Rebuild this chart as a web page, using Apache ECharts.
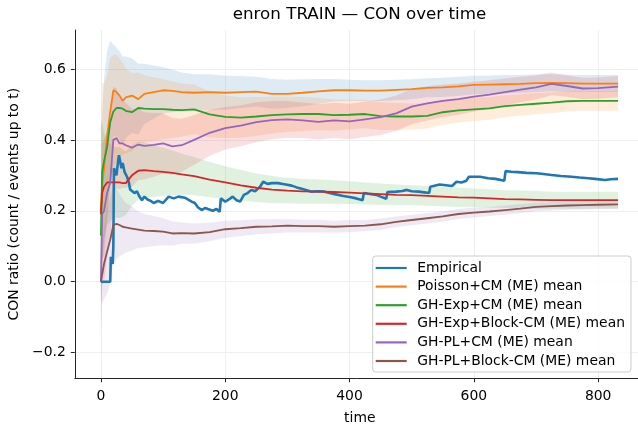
<!DOCTYPE html>
<html><head><meta charset="utf-8">
<script src="https://cdn.jsdelivr.net/npm/echarts@6/dist/echarts.min.js"></script>
<style>html,body{margin:0;padding:0;background:#fff}#c{width:638px;height:428px}</style>
</head><body><div id="c"></div>
<script>
// ---- data ----
const T = [0,2,5,10,15,20,25,30,35,40,50,60,70,85,100,115,130,150,175,200,225,250,275,300,325,350,375,400,425,450,475,500,525,550,575,600,625,650,675,700,725,750,775,800,832];

const empT = [0,15,16,18,19,20,21,23,25,27,29,31,33,35,38,42,45,47,50,54,58,62,66,70,75,80,85,92,100,109,117,125,135,146,151,156,162,168,172,180,186,191,193,200,206,212,218,224,230,236,242,248,256,261,268,275,285,295,307,315,323,331,339,350,360,368,376,390,400,411,421,423,430,443,450,459,461,475,485,492,500,511,520,528,530,545,555,565,572,580,588,592,600,610,623,635,649,651,660,671,685,701,712,725,740,757,770,784,795,811,820,832];
const empV = [0,0,0.07,0.075,0.05,0.1,0.32,0.325,0.3,0.33,0.357,0.34,0.32,0.335,0.31,0.296,0.28,0.26,0.265,0.25,0.255,0.24,0.23,0.24,0.232,0.228,0.222,0.228,0.222,0.24,0.235,0.24,0.237,0.226,0.222,0.21,0.202,0.208,0.205,0.2,0.205,0.197,0.235,0.226,0.232,0.24,0.23,0.226,0.245,0.25,0.259,0.255,0.268,0.282,0.276,0.278,0.278,0.275,0.271,0.266,0.262,0.258,0.254,0.255,0.254,0.25,0.247,0.242,0.239,0.235,0.23,0.25,0.248,0.245,0.24,0.234,0.253,0.254,0.256,0.259,0.255,0.254,0.252,0.25,0.268,0.274,0.272,0.27,0.282,0.28,0.285,0.296,0.296,0.296,0.292,0.29,0.285,0.312,0.31,0.309,0.307,0.306,0.304,0.301,0.298,0.296,0.294,0.292,0.29,0.287,0.289,0.29];

const mPoisson  = [0.2,0.27,0.32,0.41,0.48,0.54,0.535,0.525,0.51,0.52,0.525,0.515,0.53,0.535,0.54,0.538,0.535,0.533,0.535,0.533,0.535,0.536,0.53,0.53,0.533,0.537,0.54,0.54,0.539,0.539,0.541,0.543,0.547,0.548,0.551,0.555,0.556,0.557,0.558,0.56,0.561,0.56,0.559,0.559,0.559];
const mExp      = [0.13,0.31,0.34,0.38,0.45,0.48,0.49,0.49,0.488,0.482,0.478,0.49,0.488,0.487,0.487,0.485,0.484,0.486,0.472,0.465,0.463,0.466,0.47,0.472,0.473,0.473,0.47,0.471,0.473,0.467,0.466,0.466,0.468,0.478,0.483,0.486,0.489,0.495,0.499,0.502,0.505,0.509,0.51,0.51,0.51];
const mExpBlock = [0.19,0.25,0.268,0.28,0.28,0.28,0.28,0.28,0.278,0.278,0.3,0.313,0.315,0.312,0.31,0.307,0.303,0.298,0.288,0.28,0.272,0.265,0.26,0.257,0.255,0.254,0.253,0.251,0.249,0.247,0.245,0.244,0.242,0.24,0.238,0.237,0.235,0.233,0.232,0.231,0.23,0.23,0.23,0.23,0.23];
const mPL       = [0,0.19,0.2,0.25,0.28,0.4,0.405,0.39,0.39,0.385,0.378,0.387,0.383,0.386,0.39,0.382,0.385,0.4,0.42,0.433,0.44,0.45,0.456,0.458,0.455,0.451,0.455,0.452,0.458,0.464,0.475,0.494,0.503,0.51,0.515,0.522,0.528,0.535,0.542,0.548,0.558,0.552,0.545,0.546,0.55];
const mPLBlock  = [0,0.02,0.05,0.085,0.118,0.16,0.163,0.16,0.155,0.153,0.15,0.147,0.144,0.143,0.141,0.136,0.137,0.136,0.14,0.148,0.151,0.155,0.156,0.158,0.157,0.157,0.155,0.157,0.158,0.162,0.169,0.174,0.179,0.184,0.191,0.195,0.198,0.202,0.206,0.211,0.213,0.215,0.216,0.217,0.218];

// half-widths of the shaded bands
const sdPoisson  = [0.15,0.2,0.25,0.24,0.2,0.13,0.125,0.125,0.125,0.115,0.105,0.1,0.085,0.075,0.065,0.06,0.055,0.052,0.05,0.048,0.045,0.042,0.042,0.04,0.038,0.035,0.032,0.03,0.029,0.029,0.029,0.028,0.027,0.027,0.027,0.026,0.026,0.026,0.025,0.025,0.024,0.024,0.024,0.024,0.024];
const sdExp      = [0.3,0.25,0.22,0.2,0.18,0.16,0.15,0.14,0.13,0.12,0.11,0.1,0.095,0.09,0.085,0.08,0.075,0.07,0.065,0.06,0.057,0.055,0.052,0.05,0.048,0.046,0.044,0.042,0.04,0.039,0.038,0.037,0.036,0.035,0.034,0.033,0.032,0.031,0.03,0.03,0.029,0.029,0.028,0.028,0.028];
const sdExpBlock = [0.25,0.2,0.15,0.12,0.11,0.1,0.1,0.1,0.095,0.09,0.085,0.082,0.078,0.073,0.068,0.063,0.058,0.054,0.05,0.046,0.043,0.04,0.038,0.036,0.035,0.034,0.033,0.032,0.031,0.03,0.029,0.028,0.028,0.027,0.027,0.026,0.026,0.025,0.025,0.025,0.024,0.024,0.024,0.024,0.024];
const sdPL       = [0.15,0.2,0.2,0.18,0.17,0.15,0.14,0.13,0.125,0.12,0.11,0.1,0.095,0.09,0.085,0.08,0.075,0.07,0.065,0.06,0.058,0.056,0.054,0.052,0.05,0.05,0.05,0.05,0.05,0.05,0.05,0.05,0.048,0.046,0.044,0.042,0.04,0.038,0.036,0.034,0.032,0.03,0.03,0.03,0.03];
const sdPLBlock  = [0.05,0.08,0.1,0.12,0.12,0.11,0.1,0.088,0.078,0.07,0.062,0.052,0.047,0.042,0.038,0.034,0.03,0.028,0.026,0.024,0.022,0.021,0.02,0.019,0.018,0.018,0.017,0.017,0.016,0.016,0.015,0.015,0.015,0.014,0.014,0.014,0.013,0.013,0.013,0.012,0.012,0.012,0.012,0.012,0.012];

const names = ['Empirical','Poisson+CM (ME) mean','GH-Exp+CM (ME) mean','GH-Exp+Block-CM (ME) mean','GH-PL+CM (ME) mean','GH-PL+Block-CM (ME) mean'];
const yTicks = [-0.2,0,0.2,0.4,0.6];
const xTicks = [0,200,400,600,800];
const titleText = 'enron TRAIN \u2014 CON over time';
const xName = 'time';
const yName = 'CON ratio (count / events up to t)';

// ---- chart ----
const C = ['#1f77b4','#ff7f0e','#2ca02c','#d62728','#9467bd','#8c564b'];
const FONT = 'DejaVu Sans';
const models = [
  {name:names[1], mean:mPoisson,  sd:sdPoisson,  line:C[1], band:'rgba(31,119,180,0.15)'},
  {name:names[2], mean:mExp,      sd:sdExp,      line:C[2], band:'rgba(255,127,14,0.15)'},
  {name:names[3], mean:mExpBlock, sd:sdExpBlock, line:C[3], band:'rgba(44,160,44,0.15)'},
  {name:names[4], mean:mPL,       sd:sdPL,       line:C[4], band:'rgba(214,39,40,0.15)'},
  {name:names[5], mean:mPLBlock,  sd:sdPLBlock,  line:C[5], band:'rgba(148,103,189,0.15)'}
];

function bandSeries(m){
  return {
    type:'custom', silent:true, clip:true, data:[[0,0]], encode:{x:0,y:1},
    renderItem:function(params, api){
      const up=[], lo=[];
      for(let i=0;i<T.length;i++){
        up.push(api.coord([T[i], m.mean[i]+m.sd[i]]));
        lo.push(api.coord([T[i], m.mean[i]-m.sd[i]]));
      }
      return {type:'polygon', shape:{points: up.concat(lo.reverse())}, style:{fill:m.band, stroke:null}};
    }
  };
}

const series = [{
  name:names[0], type:'line', symbol:'none', showSymbol:false, clip:true,
  lineStyle:{color:C[0], width:2.6}, itemStyle:{color:C[0]},
  data: empT.map((t,i)=>[t, empV[i]])
}];
models.forEach(m=>{
  series.push({
    name:m.name, type:'line', symbol:'none', showSymbol:false, clip:true,
    lineStyle:{color:m.line, width:1.8}, itemStyle:{color:m.line},
    data: T.map((t,i)=>[t, m.mean[i]])
  });
  series.push(bandSeries(m));
});

const axisCol = '#262626';
const chart = echarts.init(document.getElementById('c'), null, {renderer:'canvas'});
chart.setOption({
  animation:false,
  backgroundColor:'#ffffff',
  textStyle:{fontFamily:FONT},
  graphic:[{type:'text', x:359.5, y:15, style:{text:titleText, font:'16.7px "DejaVu Sans"', fill:'#000', textAlign:'center', textVerticalAlign:'middle'}}],
  grid:{left:74.8, right:-6.8, top:30, bottom:49.7, containLabel:false, outerBoundsMode:'none'},
  legend:{
    data:names.map((n,i)=>({name:n, icon:'rect', itemStyle:{color:C[i]}})),
    orient:'vertical', left:372.7, top:256,
    padding:[5,6,4,3], itemWidth:31, itemHeight:2.2, itemGap:4.6,
    backgroundColor:'rgba(255,255,255,0.8)', borderColor:'#cccccc', borderWidth:1, borderRadius:3,
    textStyle:{fontFamily:FONT, fontSize:13.9, color:'#000', padding:[0,0,0,5.5], lineHeight:14},
    selectedMode:false
  },
  xAxis:{
    type:'value', min:-42, max:875,
    name:xName, nameLocation:'middle', nameGap:33,
    nameTextStyle:{fontFamily:FONT, fontSize:13.9, color:'#000'},
    axisLine:{show:true, onZero:false, lineStyle:{color:axisCol, width:1}},
    axisTick:{show:true, length:4, customValues:xTicks, lineStyle:{color:axisCol, width:1}},
    axisLabel:{customValues:xTicks, margin:11, fontFamily:FONT, fontSize:13.9, color:'#000', formatter:v=>String(v)},
    splitLine:{show:true, lineStyle:{color:'#ebebeb', width:0.8}}
  },
  yAxis:{
    type:'value', min:-0.2725, max:0.71,
    name:yName, nameLocation:'middle', nameGap:45, nameRotate:90,
    nameTextStyle:{fontFamily:FONT, fontSize:13.9, color:'#000'},
    axisLine:{show:true, onZero:false, lineStyle:{color:axisCol, width:1}},
    axisTick:{show:true, length:4, customValues:yTicks, lineStyle:{color:axisCol, width:1}},
    axisLabel:{customValues:yTicks, margin:9, fontFamily:FONT, fontSize:13.9, color:'#000',
      formatter:v=>(v<-1e-9?'\u2212':'')+Math.abs(v).toFixed(1)},
    splitLine:{show:true, lineStyle:{color:'#ebebeb', width:0.8}}
  },
  series:series
});
</script></body></html>
